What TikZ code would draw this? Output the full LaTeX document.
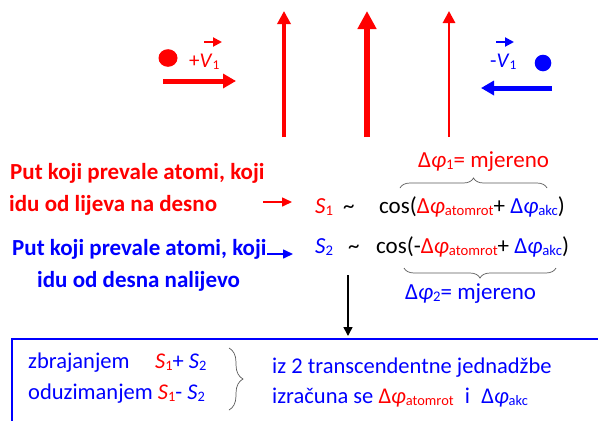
\documentclass[tikz,border=0pt]{standalone}
\usepackage{fontspec}
\setmainfont{Carlito}
\usetikzlibrary{arrows.meta,decorations.pathreplacing}
\definecolor{rd}{RGB}{255,0,0}
\definecolor{bl}{RGB}{0,0,255}
\definecolor{brc}{RGB}{90,90,90}
% phase symbol and lowered subscripts
\newcommand{\dph}{Δ\textit{φ}}
\newcommand{\lo}[1]{\raisebox{-0.22ex}{\fontsize{0.64em}{0.64em}\selectfont #1}}
\begin{document}
\begin{tikzpicture}[x=1pt,y=-1pt,
  lbl/.style={anchor=base west,inner sep=0pt,font=\fontsize{23}{23}\selectfont\bfseries},
  txt/.style={anchor=base west,inner sep=0pt,font=\fontsize{23}{23}\selectfont},
  vel/.style={anchor=base west,inner sep=0pt,font=\fontsize{21}{21}\selectfont},
  sml/.style={anchor=base west,inner sep=0pt,font=\fontsize{22.5}{22.5}\selectfont},
  brc/.style={draw=brc,line width=0.7pt,decorate,decoration={brace,amplitude=10pt}},
  bigarr/.style={line width=5pt,-{Triangle[length=13pt,width=14pt]}},
  tinyarr/.style={line width=2pt,-{Triangle[length=9pt,width=9pt]}},
  ptrarr/.style={line width=1.6pt,-{Triangle[length=10pt,width=9pt]}}]
\useasboundingbox (0,0) rectangle (598,421);

% incoming atoms
\fill[rd] (168,58) ellipse (9.5pt and 8.8pt);
\node[vel,text=rd] (vp) at (189,67) {+\textit{V}\lo{1}};
\coordinate (vpa) at (204,42); \coordinate (vpb) at (222,42);
\draw[rd,tinyarr] (vpa) -- (vpb);
\coordinate (ra) at (163,81); \coordinate (rb) at (236,81);
\draw[rd,bigarr] (ra) -- (rb);

\fill[bl] (543,63) circle (8.3pt);
\node[vel,text=bl] (vm) at (490,67) {-\textit{V}\lo{1}};
\coordinate (vma) at (496,42); \coordinate (vmb) at (514,42);
\draw[bl,tinyarr] (vma) -- (vmb);
\coordinate (ba) at (552,88); \coordinate (bb) at (481,88);
\draw[bl,bigarr] (ba) -- (bb);

% laser beams
\coordinate (l1a) at (284,137); \coordinate (l1b) at (284,11);
\coordinate (l2a) at (367,137); \coordinate (l2b) at (367,11);
\coordinate (l3a) at (449,137); \coordinate (l3b) at (449,11);
\draw[rd,line width=3.5pt,-{Triangle[length=13pt,width=13pt]}] (l1a) -- (l1b);
\draw[rd,line width=5.3pt,-{Triangle[length=18pt,width=18pt]}] (l2a) -- (l2b);
\draw[rd,line width=2.8pt,-{Triangle[length=12pt,width=12pt]}] (l3a) -- (l3b);

% paths
\node[lbl,text=rd] (p1) at (10,179) {Put koji prevale atomi, koji};
\node[lbl,text=rd] (p2) at (9,211) {idu od lijeva na desno};
\node[lbl,text=bl] (q1) at (12,255) {Put koji prevale atomi, koji};
\node[lbl,text=bl] (q2) at (37,287) {idu od desna nalijevo};
\coordinate (pa) at (263,202); \coordinate (pb) at (292,202);
\draw[rd,ptrarr] (pa) -- (pb);
\coordinate (qa) at (267,254); \coordinate (qb) at (293,254);
\draw[bl,ptrarr] (qa) -- (qb);

% signals
\node[txt,text=rd] (s1) at (315,213) {\textit{S}\lo{1}};
\node[txt] (t1) at (343,213) {\char`~};
\node[txt] (c1) at (379,213) {cos(\textcolor{rd}{\dph\lo{atomrot}}+ \textcolor{bl}{\dph\lo{akc}})};
\node[txt,text=bl] (s2) at (315,253) {\textit{S}\lo{2}};
\node[txt] (t2) at (348,253) {\char`~};
\node[txt] (c2) at (376,253) {cos(-\textcolor{rd}{\dph\lo{atomrot}}+ \textcolor{bl}{\dph\lo{akc}})};

\coordinate (b1a) at (400,188); \coordinate (b1b) at (547,188);
\draw[brc] (b1a) -- (b1b);
\node[txt,text=rd] (m1) at (418,167) {\dph\lo{1}= mjereno};
\coordinate (b2a) at (556,268); \coordinate (b2b) at (404,268);
\draw[brc] (b2a) -- (b2b);
\node[txt,text=bl] (m2) at (405,299) {\dph\lo{2}= mjereno};

% result box
\coordinate (da) at (348,275); \coordinate (db) at (348,336);
\draw[line width=1.6pt,-{Triangle[length=9pt,width=9pt]}] (da) -- (db);
\draw[bl,line width=1.8pt] (12,421) -- (12,339) -- (598,339);

\node[sml,text=bl] (z1) at (28,368) {zbrajanjem};
\node[sml,text=bl] (z2) at (155,368) {\textcolor{rd}{\textit{S}\lo{1}}+ \textit{S}\lo{2}};
\node[sml,text=bl] (o1) at (28,399) {oduzimanjem \textcolor{rd}{\textit{S}\lo{1}}- \textit{S}\lo{2}};
\coordinate (b3a) at (229,348); \coordinate (b3b) at (229,410);
\draw[brc,decoration={brace,amplitude=14pt}] (b3a) -- (b3b);
\node[sml,text=bl] (r1) at (272,373) {iz 2 transcendentne jednadžbe};
\node[sml,text=bl] (r2) at (272,403) {izračuna se \textcolor{rd}{\dph\lo{atomrot}}\hspace{0.5em}i\hspace{0.5em}\dph\lo{akc}};
\end{tikzpicture}
\end{document}
